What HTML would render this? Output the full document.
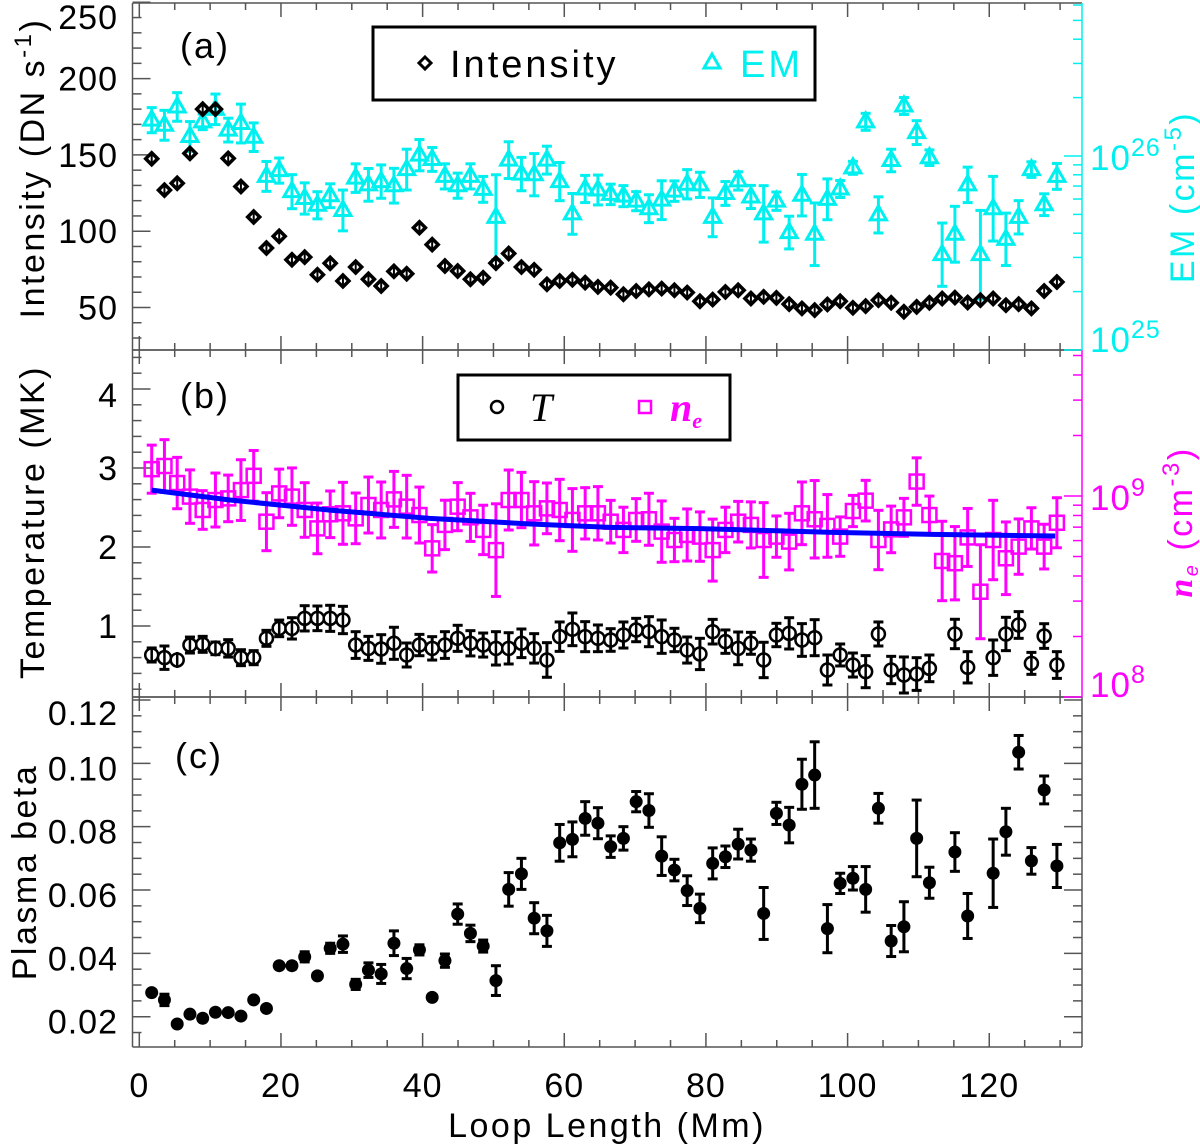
<!DOCTYPE html>
<html><head><meta charset="utf-8"><style>
html,body{margin:0;padding:0;background:#fff}
svg{display:block;font-family:"Liberation Sans",sans-serif}
</style></head><body>
<svg id="chart" width="1200" height="1145" viewBox="0 0 1200 1145" xmlns="http://www.w3.org/2000/svg"></svg>
<script>
const loopLength=[1.75,3.55,5.35,7.15,8.95,10.75,12.55,14.35,16.15,17.95,19.75,21.55,23.35,25.15,26.95,28.75,30.55,32.35,34.15,35.95,37.75,39.55,41.35,43.15,44.95,46.75,48.55,50.35,52.15,53.95,55.75,57.55,59.35,61.15,62.95,64.75,66.55,68.35,70.15,71.95,73.75,75.55,77.35,79.15,80.95,82.75,84.55,86.35,88.15,89.95,91.75,93.55,95.35,97.15,98.95,100.75,102.55,104.35,106.15,107.95,109.75,111.55,113.35,115.15,116.95,118.75,120.55,122.35,124.15,125.95,127.75,129.55];
const intensity=[147.5,126.9,131.4,151,180,180,147.7,129.3,109.3,89,96.7,81.3,83,71.5,79,67.4,76.5,68.5,64.1,73.7,72.1,102.3,91.2,77.2,73.9,68.5,69.5,79.1,85.4,76.5,74.7,65.2,67.4,68.2,66.3,63.5,63,58.7,60.8,61.9,62.4,61.3,59.8,54.1,55.2,60.2,61.3,55.9,57,56.3,52.2,49.4,48.3,52,54.1,49.8,50.9,54.8,53.1,47.2,50.4,53.1,55.9,56.5,53.3,54.8,55.9,51.5,52.2,49.4,60.8,66.7];
const emValues=[15.3,14.4,17.9,12.6,15.0,17.4,13.6,14.7,12.5,7.85,8.41,6.55,6.04,5.57,6.24,5.24,7.69,7.10,7.38,7.03,8.51,10.1,9.6,7.85,7.03,7.85,6.73,4.83,9.52,8.07,8.01,9.52,7.38,5.03,6.76,6.68,6.34,6.21,5.85,5.35,5.92,6.59,7.15,7.10,4.83,6.41,7.44,6.15,5.03,5.85,4.03,6.28,3.95,5.98,6.76,8.69,15.0,4.97,9.48,18.1,13.2,9.8,3.10,3.95,7.10,3.10,5.35,3.72,4.83,8.51,5.61,7.85];
const emErr=[0.161,0.194,0.185,0.194,0.097,0.199,0.152,0.259,0.185,0.194,0.161,0.224,0.204,0.175,0.152,0.274,0.185,0.214,0.219,0.229,0.274,0.204,0.152,0.161,0.161,0.161,0.166,0.657,0.244,0.219,0.285,0.180,0.254,0.274,0.175,0.194,0.129,0.133,0.12,0.180,0.259,0.129,0.190,0.161,0.259,0.152,0.115,0.147,0.398,0.115,0.214,0.279,0.450,0.274,0.106,0.080,0.106,0.239,0.143,0.106,0.152,0.097,0.456,0.393,0.234,0.691,0.468,0.365,0.219,0.097,0.138,0.166];
const temperature=[0.633,0.599,0.570,0.759,0.768,0.717,0.717,0.599,0.599,0.844,0.970,0.970,1.097,1.097,1.097,1.076,0.759,0.717,0.709,0.781,0.633,0.759,0.717,0.759,0.844,0.781,0.759,0.717,0.717,0.781,0.717,0.570,0.865,0.958,0.865,0.844,0.823,0.886,0.949,0.928,0.865,0.823,0.696,0.646,0.928,0.802,0.717,0.781,0.570,0.886,0.907,0.823,0.852,0.443,0.633,0.506,0.422,0.899,0.443,0.380,0.392,0.464,null,0.899,0.477,null,0.599,0.899,1.013,0.527,0.873,0.506];
const tempErr=[0.089,0.148,0.042,0.101,0.101,0.080,0.110,0.101,0.089,0.101,0.105,0.135,0.160,0.156,0.165,0.173,0.169,0.152,0.181,0.203,0.152,0.135,0.148,0.169,0.165,0.160,0.152,0.211,0.198,0.181,0.186,0.219,0.186,0.207,0.190,0.169,0.143,0.165,0.148,0.190,0.211,0.148,0.165,0.198,0.156,0.148,0.207,0.139,0.224,0.148,0.198,0.207,0.228,0.190,0.139,0.152,0.203,0.152,0.173,0.228,0.207,0.169,null,0.186,0.198,null,0.224,0.211,0.169,0.139,0.156,0.169];
const density=[13.6,14.1,11.6,9.93,8.52,9.55,9.73,10.7,12.6,7.45,10.3,9.93,8.52,6.90,8.11,8.20,7.74,9.02,8.52,9.62,8.85,8.04,5.49,7.18,8.85,7.83,6.78,5.38,9.55,9.55,8.20,8.68,8.52,7.60,8.20,8.20,7.45,6.78,7.60,7.66,6.65,6.04,6.40,6.28,5.38,6.78,7.45,7.18,6.04,6.28,5.93,8.20,7.66,7.10,6.28,8.42,9.48,6.04,6.82,7.83,11.8,8.04,4.75,4.63,6.22,3.34,6.04,4.90,5.60,6.90,5.60,7.36];
const densityErr=[0.317,0.352,0.342,0.358,0.248,0.362,0.306,0.416,0.337,0.394,0.321,0.389,0.367,0.337,0.306,0.426,0.337,0.378,0.378,0.378,0.432,0.378,0.312,0.327,0.317,0.317,0.327,0.70,0.410,0.373,0.437,0.337,0.421,0.432,0.342,0.358,0.277,0.297,0.277,0.347,0.421,0.282,0.347,0.327,0.426,0.297,0.262,0.302,0.534,0.267,0.383,0.432,0.558,0.432,0.253,0.196,0.262,0.405,0.306,0.243,0.312,0.243,0.576,0.522,0.394,0.713,0.576,0.516,0.373,0.267,0.292,0.332];
const fitLength=[1.75,12.8,26.9,41.0,55.2,66.5,79.2,97.9,112.0,129.3];
const fitDensity=[10.7,9.55,8.51,7.74,7.26,6.98,6.88,6.59,6.44,6.32];
const beta=[0.0276,0.0253,0.0177,0.0208,0.0195,0.0214,0.0213,0.0202,0.0253,0.0226,0.0361,0.0361,0.0389,0.0329,0.0416,0.0429,0.0302,0.0347,0.0335,0.0432,0.0352,0.0411,0.0261,0.0377,0.0524,0.0463,0.0423,0.0314,0.0602,0.0651,0.0511,0.0471,0.0749,0.0760,0.0826,0.0811,0.0737,0.0763,0.0879,0.0851,0.0707,0.0663,0.0598,0.0542,0.0684,0.0705,0.0745,0.0726,0.0526,0.0842,0.0805,0.0934,0.0963,0.0478,0.0621,0.0637,0.0602,0.0858,0.0439,0.0484,0.0763,0.0623,null,0.0720,0.0518,null,0.0653,0.0784,0.1035,0.0692,0.0916,0.0676];
const betaErr=[0.0006,0.0018,0.0006,0.0006,0.0006,0.0006,0.0006,0.0006,0.0006,0.0006,0.0006,0.001,0.0016,0.0006,0.0016,0.0026,0.0016,0.0023,0.003,0.0039,0.0032,0.0016,0.0006,0.0021,0.0032,0.0026,0.0019,0.0047,0.0053,0.0049,0.0049,0.0049,0.0058,0.0055,0.0053,0.0049,0.0034,0.0037,0.0032,0.0053,0.0061,0.0034,0.0047,0.0045,0.0049,0.0034,0.0047,0.0035,0.0082,0.0035,0.0056,0.0079,0.0105,0.0076,0.0032,0.0037,0.0072,0.0047,0.0049,0.0079,0.0121,0.0049,null,0.0061,0.0071,null,0.0108,0.0074,0.0053,0.0042,0.0044,0.0068];
const xTicks=[0,20,40,60,80,100,120];
const intensityTicks=[50,100,150,200,250];
const tempTicks=[1,2,3,4];
const betaTicks=[0.02,0.04,0.06,0.08,0.10,0.12];

const NS="http://www.w3.org/2000/svg";
const svg=document.getElementById('chart');
const L=132.5,R=1082,A0=3,A1=350,B1=697,C1=1047;
const X=v=>139.3+7.083*v;
const yI=v=>307.5-(v-50)*1.526;
const yEM=v=>350-194*Math.log10(v);
const yT=v=>626-(v-1)*79;
const yNe=v=>697-201*Math.log10(v);
const yB=v=>700+(0.12-v)*3167;
function el(tag,attrs,parent){const e=document.createElementNS(NS,tag);for(const k in attrs)e.setAttribute(k,attrs[k]);(parent||svg).appendChild(e);return e;}
function txt(s,x,y,attrs,parent){const t=el('text',Object.assign({x:x,y:y,'font-size':34,'letter-spacing':1},attrs),parent);t.textContent=s;return t;}
const gAx=el('g',{});


[[A0,A1,'#000'],[A1,B1,'#00f0f0'],[B1,C1,'#000']].forEach((p,i)=>{});
[[A0,A1,'#00f0f0'],[A1,B1,'#ff00ff'],[B1,C1,'#555']].forEach(p=>{
  el('line',{x1:L,y1:p[0],x2:R,y2:p[0],stroke:'#555','stroke-width':1.5},gAx);
  el('line',{x1:L,y1:p[1],x2:R,y2:p[1],stroke:'#555','stroke-width':1.5},gAx);
  el('line',{x1:L,y1:p[0],x2:L,y2:p[1],stroke:'#555','stroke-width':1.5},gAx);
  el('line',{x1:R,y1:p[0],x2:R,y2:p[1],stroke:p[2],'stroke-width':1.5},gAx);
  for(let v=0;v<=130;v+=5){const maj=v%20===0;const len=maj?14:7;
    el('line',{x1:X(v),y1:p[1],x2:X(v),y2:p[1]-len,stroke:'#555','stroke-width':1.5},gAx);
    el('line',{x1:X(v),y1:p[0],x2:X(v),y2:p[0]+len,stroke:'#555','stroke-width':1.5},gAx);}
});
function yTick(y,maj,side,col){const len=maj?18:9;if(side==='L')el('line',{x1:L,y1:y,x2:L+len,y2:y,stroke:col||'#555','stroke-width':1.5},gAx);else el('line',{x1:R,y1:y,x2:R-len,y2:y,stroke:col||'#555','stroke-width':1.5},gAx);}
for(let v=30;v<=250;v+=10)yTick(yI(v),v%50===0,'L');
for(let v=0.2;v<=4.41;v+=0.2)yTick(yT(v),Math.abs(v-Math.round(v))<0.01,'L');
for(let v=0.015;v<=0.1201;v+=0.005){yTick(yB(v),Math.abs(v*50-Math.round(v*50))<0.01,'L');yTick(yB(v),Math.abs(v*50-Math.round(v*50))<0.01,'R');}
[1,10].forEach(d=>{for(let m=1;m<=9;m++){const v=d*m;if(v<=60){yTick(yEM(v),m===1,'R','#00f0f0');}}});
[1,10].forEach(d=>{for(let m=1;m<=9;m++){const v=d*m;if(v<=53){yTick(yNe(v),m===1,'R','#ff00ff');}}});
intensityTicks.forEach(v=>{const t=txt(String(v),118,v===250?29:yI(v)+12,{'text-anchor':'end'});

});
tempTicks.forEach(v=>{const t=txt(String(v),118,yT(v)+12+(v===4?6:0),{'text-anchor':'end'});

});
betaTicks.forEach(v=>{const t=txt(v.toFixed(2),118,(v>=0.12?713:yB(v)+5)+12,{'text-anchor':'end'});

});
xTicks.forEach(v=>{const t=txt(String(v),X(v),1097,{'text-anchor':'middle'});

});
function pow(base,exp,x,y,col,name){const t=el('text',{x:x,y:y,'font-size':35,'letter-spacing':1,fill:col});t.textContent=base;const s=el('tspan',{dy:-14,'font-size':25},t);s.textContent=exp;

}
pow('10','26',1090,170,'#00f0f0','em-tick-1e26');
pow('10','25',1090,352,'#00f0f0','em-tick-1e25');
pow('10','9',1090,510,'#ff00ff','ne-tick-1e9');
pow('10','8',1090,697,'#ff00ff','ne-tick-1e8');
function rot(html,cx,cy,col,name){const t=el('text',{x:0,y:0,'font-size':34,'letter-spacing':2.5,fill:col,'text-anchor':'middle',transform:`translate(${cx},${cy}) rotate(-90)`});t.innerHTML=html;

}
rot('Intensity (DN s<tspan dy="-13" font-size="24">-1</tspan><tspan dy="13">)</tspan>',44,168,'#000','y-axis-title-intensity');
rot('Temperature (MK)',44,522,'#000','y-axis-title-temperature');
rot('Plasma beta',36,872,'#000','y-axis-title-beta');
rot('EM (cm<tspan dy="-13" font-size="24">-5</tspan><tspan dy="13">)</tspan>',1194,197,'#00f0f0','y-axis-title-em');
rot('<tspan font-family="Liberation Serif,serif" font-style="italic" font-weight="bold">n</tspan><tspan dy="6" font-size="20" font-style="italic">e</tspan><tspan dy="-6"> (cm</tspan><tspan dy="-13" font-size="24">-3</tspan><tspan dy="13">)</tspan>',1192,522,'#ff00ff','y-axis-title-ne');
const xt=txt('Loop Length (Mm)',607,1137,{'text-anchor':'middle','letter-spacing':2.5});


[['(a)',180,58],['(b)',180,408],['(c)',175,768]].forEach(p=>{const t=txt(p[0],p[1],p[2],{'font-size':36,'letter-spacing':2});

});

function ebar(g,x,y1,y2,col,w){el('line',{x1:x,y1:y1,x2:x,y2:y2,stroke:col,'stroke-width':w||3},g);el('line',{x1:x-5,y1:y1,x2:x+5,y2:y1,stroke:col,'stroke-width':3},g);el('line',{x1:x-5,y1:y2,x2:x+5,y2:y2,stroke:col,'stroke-width':3},g);}
const gEM=el('g',{});


emValues.forEach((v,i)=>{const x=X(loopLength[i]),y=yEM(v);ebar(gEM,x,yEM(v*(1+emErr[i])),yEM(v/(1+emErr[i])),'#00f0f0');
const p=el('polygon',{points:`${x},${y-9} ${x-8},${y+5} ${x+8},${y+5}`,fill:'none',stroke:'#00f0f0','stroke-width':3},gEM);

});
const gI=el('g',{});


intensity.forEach((v,i)=>{const x=X(loopLength[i]),y=yI(v);
const p=el('polygon',{points:`${x},${y-6} ${x+6},${y} ${x},${y+6} ${x-6},${y}`,fill:'none',stroke:'#000','stroke-width':3.5},gI);


el('line',{x1:x,y1:y-4,x2:x,y2:y+4,stroke:'#000','stroke-width':2},gI);});
const gN=el('g',{});


density.forEach((v,i)=>{const x=X(loopLength[i]),y=yNe(v);ebar(gN,x,yNe(v*(1+densityErr[i])),yNe(v/(1+densityErr[i])),'#ff00ff');
const r=el('rect',{x:x-7,y:y-7,width:14,height:14,fill:'none',stroke:'#ff00ff','stroke-width':2.5},gN);

});
const fit=el('polyline',{points:fitLength.map((v,i)=>X(v)+','+yNe(fitDensity[i])).join(' '),fill:'none',stroke:'#0000ff','stroke-width':5});


const gT=el('g',{});


temperature.forEach((v,i)=>{if(v==null)return;const x=X(loopLength[i]),y=yT(v);ebar(gT,x,yT(v+tempErr[i]),yT(v-tempErr[i]),'#000');
const c=el('circle',{cx:x,cy:y,r:6.5,fill:'#fff',stroke:'#000','stroke-width':2.5},gT);


el('line',{x1:x,y1:y-8,x2:x,y2:y+8,stroke:'#000','stroke-width':2.5},gT);});
const gB=el('g',{});


beta.forEach((v,i)=>{if(v==null)return;const x=X(loopLength[i]),y=yB(v);ebar(gB,x,yB(v+betaErr[i]),yB(v-betaErr[i]),'#000');
const c=el('circle',{cx:x,cy:y,r:6.5,fill:'#000'},gB);

});
const lgA=el('g',{});


el('rect',{x:373,y:27,width:442,height:73,fill:'#fff',stroke:'#000','stroke-width':3},lgA);
el('polygon',{points:'425,57 431,63 425,69 419,63',fill:'none',stroke:'#000','stroke-width':3},lgA);
txt('Intensity',450,77,{'font-size':38,'letter-spacing':3},lgA);
el('polygon',{points:'712,54 704,68 720,68',fill:'none',stroke:'#00f0f0','stroke-width':3},lgA);
txt('EM',740,77,{'font-size':38,'letter-spacing':3,fill:'#00f0f0'},lgA);
const lgB=el('g',{});


el('rect',{x:458,y:375,width:272,height:65,fill:'#fff',stroke:'#000','stroke-width':3},lgB);
el('circle',{cx:497,cy:407,r:6,fill:'none',stroke:'#000','stroke-width':2.5},lgB);
txt('T',530,421,{'font-size':40,'font-style':'italic','font-family':'Liberation Serif,serif'},lgB);
el('rect',{x:639,y:401,width:12,height:12,fill:'none',stroke:'#ff00ff','stroke-width':2.5},lgB);
const ne=el('text',{x:670,y:421,'font-size':40,fill:'#ff00ff','font-style':'italic','font-family':'Liberation Serif,serif','font-weight':'bold'},lgB);
ne.innerHTML='n<tspan dy="7" font-size="22">e</tspan>';
</script>
</body></html>
